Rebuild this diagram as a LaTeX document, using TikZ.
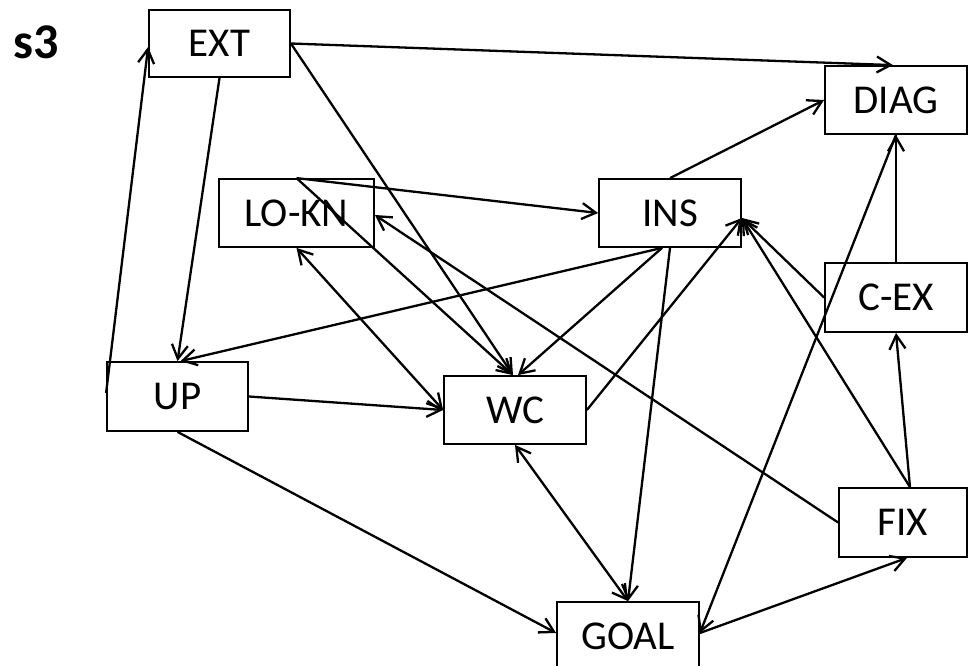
\documentclass[tikz,border=0pt]{standalone}
\usepackage{fontspec}
\setmainfont{Carlito}
\usetikzlibrary{arrows.meta}
\tikzset{
  box/.style={draw=black, line width=1.8pt, fill=white, inner sep=0pt, font=\fontsize{41}{48}\selectfont},
  conn/.style={line width=2.3pt, -{Straight Barb[length=14pt,width=16pt]}},
  biconn/.style={line width=2.3pt, {Straight Barb[length=14pt,width=16pt]}-{Straight Barb[length=14pt,width=16pt]}}
}
\begin{document}
\begin{tikzpicture}[x=1pt,y=-1pt]
\useasboundingbox (0,0) rectangle (970,666);
\fill[white] (0,0) rectangle (970,666);
\node[font=\fontsize{50}{56}\selectfont\bfseries] (s3) at (36,42) {s3};
\node[box, minimum width=141pt, minimum height=67pt] (EXT) at (219.5,43.5) {EXT};
\node[box, minimum width=142pt, minimum height=68pt] (DIAG) at (896,100) {DIAG};
\node[box, minimum width=155pt, minimum height=68pt] (LOKN) at (296.5,213) {LO-KN};
\node[box, minimum width=142pt, minimum height=68pt] (INS) at (670,213) {INS};
\node[box, minimum width=142pt, minimum height=69pt] (CEX) at (896,297.5) {C-EX};
\node[box, minimum width=141pt, minimum height=69pt] (UP) at (177.5,396.5) {UP};
\node[box, minimum width=142pt, minimum height=68pt] (WC) at (515,410) {WC};
\node[box, minimum width=128pt, minimum height=69pt] (FIX) at (903,522.5) {FIX};
\node[box, minimum width=142pt, minimum height=68pt] (GOAL) at (628,636) {GOAL};

\draw[conn] (EXT.east) -- ([xshift=-3pt]DIAG.north);
\draw[conn] (EXT.east) -- ([xshift=-2pt]WC.north);
\draw[conn] (EXT.south) -- (UP.north);
\draw[conn] ([yshift=3.5pt]UP.west) -- ([yshift=-3.5pt]EXT.west);
\draw[conn] (LOKN.north) -- (INS.west);
\draw[conn] (LOKN.north) -- ([xshift=-2pt]WC.north);
\draw[conn] (FIX.west) -- ([yshift=-2pt]LOKN.east);
\draw[conn] ([xshift=-8pt]INS.south) -- ([xshift=3pt]UP.north);
\draw[conn] ([xshift=-8pt]INS.south) -- ([xshift=3pt]WC.north);
\draw[conn] (INS.south) -- (GOAL.north);
\draw[conn] (WC.east) -- ([yshift=-5pt]INS.east);
\draw[conn] (CEX.west) -- ([yshift=-5pt]INS.east);
\draw[conn] ([xshift=7pt]FIX.north) -- ([yshift=-5pt]INS.east);
\draw[conn] ([xshift=7pt]FIX.north) -- (CEX.south);
\draw[conn] (CEX.north) -- (DIAG.south);
\draw[conn] (DIAG.south) -- ([yshift=3pt]GOAL.east);
\draw[conn] ([yshift=3pt]GOAL.east) -- ([xshift=4pt]FIX.south);
\draw[conn] (UP.east) -- (WC.west);
\draw[biconn] (LOKN.south) -- (WC.west);
\draw[conn] (UP.south) -- ([yshift=3pt]GOAL.west);
\draw[biconn] (WC.south) -- (GOAL.north);
\draw[conn] (INS.north) -- (DIAG.west);
\end{tikzpicture}
\end{document}
